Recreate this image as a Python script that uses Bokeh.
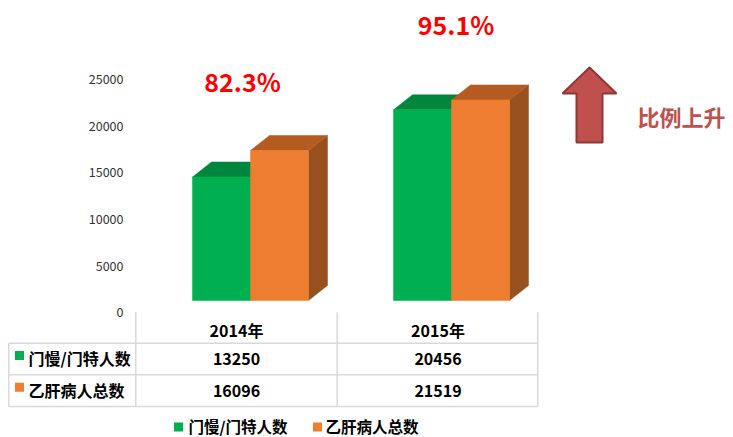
from bokeh.plotting import figure
from bokeh.models import Range1d
from bokeh.core.properties import value
from bokeh.embed import file_html
from bokeh.resources import INLINE

# ---------------- data ----------------
years = ["2014年", "2015年"]
series_names = ["门慢/门特人数", "乙肝病人总数"]
menman = [13250, 20456]      # 门慢/门特人数
yigan = [16096, 21519]       # 乙肝病人总数
ratios = ["82.3%", "95.1%"]
y_ticks = [0, 5000, 10000, 15000, 20000, 25000]
note = "比例上升"

# ---------------- style / layout ----------------
W, H = 733, 437
Y0 = 311.7                 # screen px (from top) of value 0
K = 233.0 / 25000          # px per unit
FLOOR = 11.7 / K           # front face baseline lift
DX = 19                    # depth offset px (x)
DYU = 15 / K               # depth offset (y) in data units
BW = 58                    # bar width px
group_left = [192, 393]
col_centers = [236, 437.5]
FONT = value("Noto Sans CJK SC")

GREEN, GREEN_TOP = "#00B050", "#00873D"
ORANGE, ORANGE_TOP, ORANGE_SIDE = "#ED7D31", "#B55B21", "#97501E"
GRID = "#D9D9D9"

p = figure(width=W, height=H, output_backend="svg", toolbar_location=None,
           x_range=Range1d(0, W), y_range=Range1d(-(H - Y0) / K, Y0 / K),
           x_axis_type=None, y_axis_type=None, min_border=0)
p.extra_y_ranges = {"px": Range1d(H, 0)}
p.grid.visible = False
p.outline_line_color = None
p.background_fill_color = "white"
p.border_fill_color = "white"

# ---------------- 3D bars ----------------
def bar3d(left, val, front, top, side):
    r = left + BW
    t = FLOOR + val
    p.patch([r, r, r + DX, r + DX], [FLOOR, t, t + DYU, FLOOR + DYU],
            fill_color=side, line_color=side, line_width=0.5)
    p.patch([left, r, r + DX, left + DX], [t, t, t + DYU, t + DYU],
            fill_color=top, line_color=top, line_width=0.5)
    p.quad(left=[left], right=[r], bottom=[FLOOR], top=[t],
           fill_color=front, line_color=front, line_width=0.5)

for i in range(len(years)):
    gl = group_left[i]
    bar3d(gl, menman[i], GREEN, GREEN_TOP, "#00703A")
    bar3d(gl + BW, yigan[i], ORANGE, ORANGE_TOP, ORANGE_SIDE)

# y tick labels
p.text(x=[123] * len(y_ticks), y=y_ticks, text=[str(t) for t in y_ticks],
       text_align="right", text_baseline="middle", text_font=FONT,
       text_font_size="12.5px", text_color="#333333")

# ---------------- data table ----------------
h_y = [342.7, 374.3, 406]
p.segment(x0=[8.3] * 3, y0=h_y, x1=[537.3] * 3, y1=h_y,
          line_color=GRID, line_width=1.5, y_range_name="px")
v_x = [135.3, 336.7, 537.3]
p.segment(x0=v_x, y0=[311.7] * 3, x1=v_x, y1=[406] * 3,
          line_color=GRID, line_width=1.5, y_range_name="px")
p.segment(x0=[8.3], y0=[342.7], x1=[8.3], y1=[406],
          line_color=GRID, line_width=1.5, y_range_name="px")

bold = dict(text_font=FONT, text_font_style="bold", text_font_size="16px",
            text_color="#000000", text_baseline="middle", y_range_name="px")
p.text(x=col_centers, y=[329.7] * 2, text=years, text_align="center", **bold)
p.text(x=col_centers, y=[358.8] * 2, text=[str(v) for v in menman],
       text_align="center", **bold)
p.text(x=col_centers, y=[390] * 2, text=[str(v) for v in yigan],
       text_align="center", **bold)
p.text(x=[28, 28], y=[357.5, 389], text=series_names, text_align="left", **bold)
p.scatter(x=[19, 19], y=[355, 386.7], marker="square", size=9,
          fill_color=[GREEN, ORANGE], line_color=None, y_range_name="px")

# ---------------- legend ----------------
p.scatter(x=[178, 317], y=[426.5, 426.5], marker="square", size=9,
          fill_color=[GREEN, ORANGE], line_color=None, y_range_name="px")
legend_style = dict(bold, text_font_size="15.5px")
p.text(x=[188, 325], y=[425.5, 425.5], text=series_names, text_align="left",
       **legend_style)

# ---------------- annotations ----------------
p.text(x=[242, 455.5], y=[80, 23], text=ratios, text_align="center",
       text_baseline="middle", text_font=FONT, text_font_style="bold",
       text_font_size="25px", text_color="#FF0000", y_range_name="px")

ax, atop, abot, hw, sw, hh = 589, 67, 142, 27, 13, 26
p.patch([ax, ax + hw, ax + sw, ax + sw, ax - sw, ax - sw, ax - hw],
        [atop, atop + hh, atop + hh, abot, abot, atop + hh, atop + hh],
        fill_color="#C0504D", line_color="#8C3836", line_width=2,
        y_range_name="px")
p.text(x=[637], y=[115], text=[note], text_align="left", text_baseline="middle",
       text_font=FONT, text_font_style="bold", text_font_size="22px",
       text_color="#C0504D", y_range_name="px")

open("out.html", "w").write(file_html(p, INLINE))
